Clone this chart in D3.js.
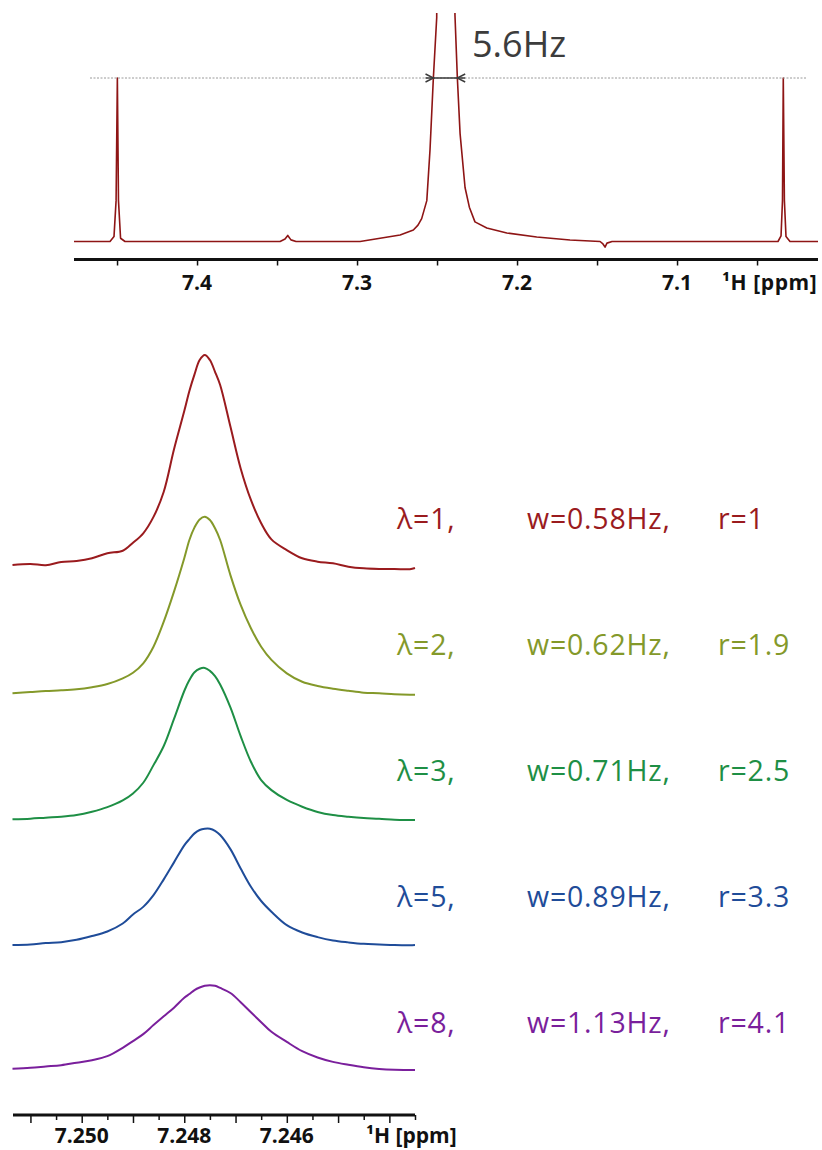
<!DOCTYPE html>
<html>
<head>
<meta charset="utf-8">
<script src="https://cdn.jsdelivr.net/npm/d3@7"></script>
<style>
  body { margin: 0; background: #fff; }
  svg { display: block; font-family: "Open Sans", sans-serif; }
  .tick-label { font-weight: bold; fill: #111; }
</style>
</head>
<body>
<div id="chart"></div>
<script>
// ---- top spectrum (full region, 13C satellites) ----
const topPpm = [7.4769, 7.4606, 7.4544, 7.4519, 7.4506, 7.4498, 7.4491, 7.4478, 7.4450,
    7.3981, 7.3481, 7.3450, 7.3433, 7.3413, 7.3381, 7.2981, 7.2856, 7.2731, 7.2648,
    7.2619, 7.2596, 7.2564, 7.2544, 7.2523, 7.2502, 7.2444, 7.2388, 7.2373, 7.2356,
    7.2325, 7.2298, 7.2263, 7.2189, 7.2064, 7.1877, 7.1669, 7.1481, 7.1463, 7.1450,
    7.1438, 7.1406, 7.0856, 7.0369, 7.0350, 7.0341, 7.0336, 7.0329, 7.0319, 7.0294, 7.0119];
const topInt = [0, 0, 0, 0.03, 0.25, 1.0, 0.25, 0.02, 0,
    0, 0, 0.015, 0.037, 0.01, 0, 0, 0.02, 0.04, 0.07,
    0.10, 0.14, 0.25, 0.56, 1.0, 1.37, 60, 1.385, 1.0, 0.66,
    0.33, 0.21, 0.12, 0.083, 0.052, 0.028, 0.009, 0, -0.015, -0.034,
    -0.01, 0, 0, 0, 0.034, 0.25, 1.0, 0.25, 0.03, 0, 0];

const topTicks = [7.45, 7.4, 7.35, 7.3, 7.25, 7.2, 7.15, 7.1, 7.05];
const topLabels = [7.4, 7.3, 7.2, 7.1];
const satelliteLevel = 1.0;
const couplingFrom = 7.2522, couplingTo = 7.2374;   // arrow tips
const couplingText = "5.6Hz";

// ---- zoomed central line, five processing settings ----
const ppmGrid = [7.25135, 7.2510, 7.2507, 7.2504, 7.2501, 7.2498, 7.2495, 7.2492, 7.2490,
    7.2488, 7.2486, 7.2484, 7.2482, 7.2480, 7.2479, 7.2478, 7.2477, 7.2476, 7.2475,
    7.2474, 7.2473, 7.2471, 7.2469, 7.2467, 7.2465, 7.2463, 7.2460, 7.2457, 7.2454,
    7.2451, 7.2448, 7.2445, 7.2442, 7.2439, 7.2436, 7.2435];

const int1 = [0, 0.5, -0.1, 1.4, 1.9, 3.2, 5.6, 6.8, 10.6, 15.1, 22.9, 34.9, 55.1, 73.3, 82.9,
    90.8, 97.6, 100, 97.6, 92.0, 85.7, 65.9, 46.0, 31.0, 19.9, 12.2, 7.1, 3.2, 1.6,
    0.8, -0.8, -1.6, -1.9, -1.9, -2.0, -1.4];
const int2 = [0, 0.6, 1.1, 1.4, 1.9, 2.9, 4.4, 7.1, 9.8, 14.3, 22.2, 34.1, 48.4, 64.3, 73.0,
    79.0, 82.8, 84.1, 82.5, 78.6, 73.0, 56.3, 42.1, 31.0, 22.2, 15.9, 9.5, 5.5, 3.5,
    2.2, 1.2, 0.3, 0, -0.5, -0.7, -0.7];
const int3 = [0, 0.3, 0.8, 1.2, 2.0, 3.6, 5.8, 9.0, 12.3, 17.4, 25.8, 34.9, 47.8, 61.1, 66.3,
    70.0, 71.7, 72.1, 70.7, 68.2, 64.2, 53.3, 39.6, 27.4, 18.7, 13.9, 9.2, 6.0, 3.5,
    2.0, 1.2, 0.6, 0.3, -0.2, -0.3, -0.3];
const int5 = [0, 0.3, 1.0, 1.4, 2.5, 4.3, 6.5, 10.3, 14.6, 18.2, 23.8, 31.3, 39.4, 47.5, 50.5,
    53.2, 54.8, 55.4, 55.4, 54.4, 52.4, 45.7, 36.5, 27.8, 21.0, 15.9, 9.5, 6.0, 3.8,
    2.2, 1.3, 0.6, 0.3, 0, -0.1, 0];
const int8 = [0, 0.5, 1.1, 1.7, 2.9, 4.1, 6.0, 10.0, 13.2, 16.5, 20.8, 25.0, 29.1, 33.8, 35.6,
    37.5, 38.7, 39.5, 39.8, 39.5, 38.5, 36.1, 31.7, 26.9, 22.2, 17.6, 12.8, 8.4, 5.4,
    3.3, 1.9, 0.7, -0.1, -0.5, -0.6, -0.6];

const lambdas = [1, 2, 3, 5, 8];
const widthsHz = ["0.58", "0.62", "0.71", "0.89", "1.13"];
const ratios = ["1", "1.9", "2.5", "3.3", "4.1"];
const bottomTicks = d3.range(0, 16).map(i => +(7.2510 - i * 0.0005).toFixed(4));
const bottomLabels = [7.250, 7.248, 7.246];

// ---- layout ----
const width = 822, height = 1150;
const colors = ["#9a1b1e", "#84992a", "#1e8f45", "#1f4c99", "#7a1f9c"];
const stackOffset = [0, 61.1, 121.1, 181, 239.9];   // vertical shift, intensity units

const svg = d3.select("#chart").append("svg")
    .attr("width", width)
    .attr("height", height);

/* top panel */
const xTop = d3.scaleLinear().domain([7.4769, 7.0119]).range([74, 818]);
const yTop = d3.scaleLinear().domain([0, 1]).range([241.5, 78]);

svg.append("clipPath").attr("id", "topClip")
    .append("rect").attr("x", 0).attr("y", 13).attr("width", width).attr("height", 250);

const topLine = d3.line()
    .x((d, i) => xTop(topPpm[i]))
    .y(d => yTop(d));

svg.append("path")
    .datum(topInt)
    .attr("clip-path", "url(#topClip)")
    .attr("d", topLine)
    .attr("fill", "none")
    .attr("stroke", "#8e1515")
    .attr("stroke-width", 1.6)
    .attr("stroke-linejoin", "round");

// dotted reference line at satellite height
svg.append("line")
    .attr("x1", xTop(7.4669)).attr("x2", xTop(7.0188))
    .attr("y1", yTop(satelliteLevel)).attr("y2", yTop(satelliteLevel))
    .attr("stroke", "#9a9a9a")
    .attr("stroke-width", 1)
    .attr("stroke-dasharray", "2,1.5");

// coupling arrows  >--<
const ay = yTop(satelliteLevel);
const xa = xTop(couplingFrom), xb = xTop(couplingTo);
const arrowG = svg.append("g").attr("stroke", "#3a3a3a").attr("fill", "none").attr("stroke-width", 1.4);
arrowG.append("line").attr("x1", xa - 8).attr("x2", xb + 8).attr("y1", ay).attr("y2", ay);
arrowG.append("path").attr("d", `M${xa - 8},${ay - 4} L${xa},${ay} L${xa - 8},${ay + 4}`);
arrowG.append("path").attr("d", `M${xb + 8},${ay - 4} L${xb},${ay} L${xb + 8},${ay + 4}`);

svg.append("text")
    .attr("x", 472).attr("y", 57)
    .attr("font-size", 36)
    .attr("fill", "#3c3c3c")
    .text(couplingText);

// top axis
const topAxisG = svg.append("g")
    .attr("transform", "translate(0,259.5)")
    .call(d3.axisBottom(xTop).tickValues(topTicks).tickSize(6).tickFormat(""));
topAxisG.select(".domain").remove();
topAxisG.selectAll(".tick line").attr("stroke", "#111").attr("stroke-width", 1.5);
topAxisG.append("line")
    .attr("x1", 74).attr("x2", 818)
    .attr("stroke", "#111").attr("stroke-width", 3);

svg.selectAll(".top-label")
    .data(topLabels)
    .join("text")
    .attr("class", "tick-label")
    .attr("x", d => xTop(d))
    .attr("y", 290)
    .attr("text-anchor", "middle")
    .attr("font-size", 21)
    .text(d => d.toFixed(1));

svg.append("text")
    .attr("class", "tick-label")
    .attr("x", 722).attr("y", 290)
    .attr("font-size", 21)
    .attr("letter-spacing", 0.6)
    .text("¹H [ppm]");

/* bottom panel */
const xBot = d3.scaleLinear().domain([7.25134, 7.24350]).range([13, 415]);
const yBot = d3.scaleLinear().domain([0, 100]).range([565, 355]);

const series = [int1, int2, int3, int5, int8];

series.forEach((vals, k) => {
    const line = d3.line()
        .x((d, i) => xBot(ppmGrid[i]))
        .y(d => yBot(d - stackOffset[k]))
        .curve(d3.curveCatmullRom.alpha(0.5));

    svg.append("path")
        .datum(vals)
        .attr("d", line)
        .attr("fill", "none")
        .attr("stroke", colors[k])
        .attr("stroke-width", 2);
});

// labels for each trace
const legend = svg.append("g").attr("font-size", 28.5).attr("letter-spacing", 0.8);
lambdas.forEach((l, k) => {
    const yy = 529 + k * 126;
    legend.append("text").attr("x", 397).attr("y", yy).attr("fill", colors[k]).text(`λ=${l},`);
    legend.append("text").attr("x", 527).attr("y", yy).attr("fill", colors[k]).text(`w=${widthsHz[k]}Hz,`);
    legend.append("text").attr("x", 718).attr("y", yy).attr("fill", colors[k]).text(`r=${ratios[k]}`);
});

// bottom axis
const botAxisG = svg.append("g")
    .attr("transform", "translate(0,1115)")
    .call(d3.axisBottom(xBot).tickValues(bottomTicks).tickSize(8).tickFormat(""));
botAxisG.select(".domain").remove();
botAxisG.selectAll(".tick line")
    .attr("stroke", "#111")
    .attr("stroke-width", 1.5)
    .attr("y2", d => Math.round(d * 10000) % 10 === 0 ? 8 : 5);
botAxisG.append("line")
    .attr("x1", 13).attr("x2", 415)
    .attr("stroke", "#111").attr("stroke-width", 3);

svg.selectAll(".bot-label")
    .data(bottomLabels)
    .join("text")
    .attr("class", "tick-label")
    .attr("x", d => xBot(d))
    .attr("y", 1143)
    .attr("text-anchor", "middle")
    .attr("font-size", 21)
    .text(d => d.toFixed(3));

svg.append("text")
    .attr("class", "tick-label")
    .attr("x", 366).attr("y", 1143)
    .attr("font-size", 21)
    .text("¹H [ppm]");
</script>
</body>
</html>
